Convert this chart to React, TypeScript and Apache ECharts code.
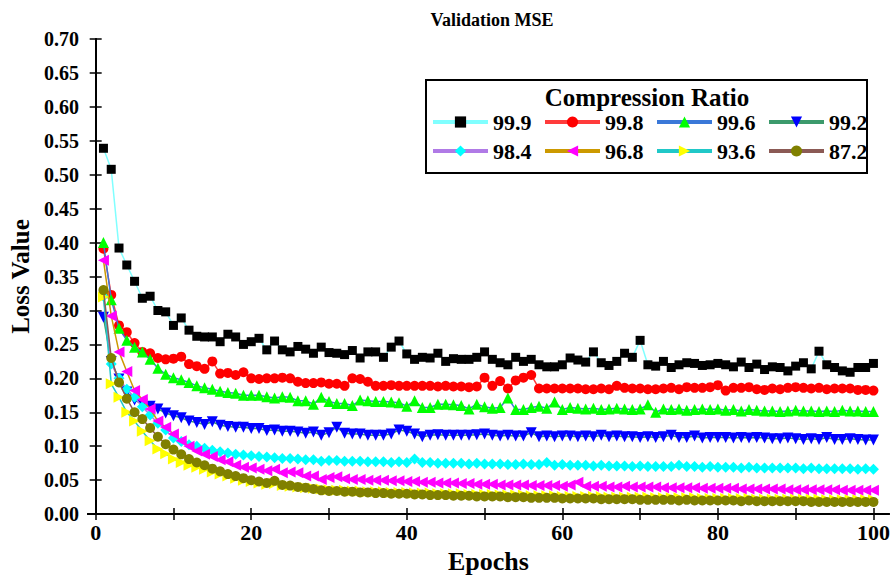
import React, { useEffect, useRef } from "react";
import * as echarts from "echarts";

const FONT = "Liberation Serif";

const epochs = Array.from({ length: 100 }, (_, i) => i + 1);

const cr999 = [
  0.539, 0.508, 0.392, 0.367, 0.343, 0.318, 0.321, 0.300, 0.298, 0.278,
  0.289, 0.271, 0.262, 0.261, 0.261, 0.254, 0.265, 0.261, 0.250, 0.254,
  0.259, 0.242, 0.255, 0.242, 0.239, 0.247, 0.243, 0.237, 0.246, 0.238,
  0.237, 0.235, 0.241, 0.230, 0.239, 0.239, 0.231, 0.246, 0.255, 0.236,
  0.228, 0.231, 0.230, 0.237, 0.225, 0.229, 0.228, 0.228, 0.231, 0.239,
  0.228, 0.223, 0.220, 0.231, 0.225, 0.228, 0.220, 0.217, 0.217, 0.220,
  0.230, 0.227, 0.224, 0.239, 0.223, 0.219, 0.225, 0.237, 0.231, 0.256,
  0.220, 0.218, 0.225, 0.216, 0.220, 0.223, 0.222, 0.219, 0.220, 0.222,
  0.220, 0.217, 0.224, 0.216, 0.221, 0.213, 0.217, 0.216, 0.211, 0.218,
  0.223, 0.214, 0.240, 0.220, 0.216, 0.211, 0.209, 0.216, 0.216, 0.222,
];
const cr998 = [
  0.391, 0.323, 0.278, 0.268, 0.252, 0.239, 0.237, 0.230, 0.228, 0.229,
  0.232, 0.221, 0.218, 0.214, 0.225, 0.207, 0.208, 0.205, 0.209, 0.200,
  0.199, 0.200, 0.200, 0.201, 0.200, 0.195, 0.193, 0.193, 0.194, 0.192,
  0.192, 0.189, 0.200, 0.199, 0.195, 0.189, 0.189, 0.190, 0.189, 0.189,
  0.189, 0.189, 0.189, 0.188, 0.189, 0.188, 0.188, 0.187, 0.188, 0.201,
  0.189, 0.196, 0.185, 0.197, 0.201, 0.205, 0.185, 0.185, 0.185, 0.185,
  0.185, 0.185, 0.184, 0.184, 0.185, 0.184, 0.189, 0.186, 0.185, 0.185,
  0.184, 0.184, 0.185, 0.186, 0.184, 0.187, 0.186, 0.186, 0.187, 0.190,
  0.182, 0.186, 0.186, 0.187, 0.184, 0.183, 0.185, 0.184, 0.186, 0.187,
  0.186, 0.185, 0.186, 0.184, 0.185, 0.185, 0.185, 0.183, 0.183, 0.182,
];
const cr996 = [
  0.400, 0.316, 0.274, 0.256, 0.246, 0.239, 0.228, 0.215, 0.206, 0.201,
  0.198, 0.194, 0.189, 0.186, 0.184, 0.181, 0.179, 0.178, 0.175, 0.175,
  0.175, 0.173, 0.171, 0.173, 0.172, 0.167, 0.167, 0.162, 0.172, 0.166,
  0.163, 0.163, 0.160, 0.168, 0.167, 0.166, 0.166, 0.165, 0.164, 0.159,
  0.167, 0.157, 0.157, 0.162, 0.162, 0.161, 0.160, 0.155, 0.162, 0.158,
  0.156, 0.157, 0.171, 0.154, 0.154, 0.157, 0.159, 0.156, 0.165, 0.154,
  0.157, 0.156, 0.155, 0.156, 0.154, 0.155, 0.156, 0.155, 0.154, 0.155,
  0.161, 0.150, 0.155, 0.154, 0.155, 0.153, 0.154, 0.155, 0.154, 0.155,
  0.153, 0.154, 0.152, 0.154, 0.153, 0.152, 0.152, 0.151, 0.152, 0.153,
  0.152, 0.152, 0.151, 0.152, 0.151, 0.153, 0.152, 0.152, 0.151, 0.151,
];
const cr992 = [
  0.290, 0.225, 0.199, 0.180, 0.168, 0.162, 0.159, 0.155, 0.149, 0.145,
  0.142, 0.137, 0.135, 0.132, 0.136, 0.131, 0.129, 0.128, 0.128, 0.126,
  0.126, 0.123, 0.124, 0.122, 0.122, 0.121, 0.119, 0.121, 0.116, 0.120,
  0.128, 0.119, 0.118, 0.118, 0.116, 0.116, 0.116, 0.118, 0.124, 0.122,
  0.118, 0.114, 0.116, 0.117, 0.116, 0.116, 0.116, 0.116, 0.117, 0.118,
  0.116, 0.115, 0.116, 0.115, 0.115, 0.120, 0.114, 0.115, 0.114, 0.115,
  0.115, 0.114, 0.115, 0.114, 0.116, 0.114, 0.115, 0.114, 0.114, 0.113,
  0.114, 0.113, 0.114, 0.116, 0.113, 0.113, 0.115, 0.112, 0.113, 0.113,
  0.113, 0.112, 0.113, 0.112, 0.113, 0.112, 0.111, 0.111, 0.112, 0.111,
  0.110, 0.111, 0.110, 0.113, 0.110, 0.110, 0.111, 0.110, 0.109, 0.109,
];
const cr984 = [
  0.321, 0.221, 0.200, 0.184, 0.172, 0.158, 0.146, 0.134, 0.124, 0.112,
  0.107, 0.102, 0.100, 0.097, 0.094, 0.092, 0.090, 0.088, 0.087, 0.086,
  0.085, 0.084, 0.083, 0.082, 0.082, 0.081, 0.080, 0.080, 0.078, 0.079,
  0.079, 0.078, 0.078, 0.078, 0.077, 0.077, 0.077, 0.076, 0.077, 0.076,
  0.081, 0.076, 0.076, 0.075, 0.075, 0.075, 0.075, 0.074, 0.075, 0.074,
  0.074, 0.074, 0.073, 0.073, 0.074, 0.073, 0.073, 0.076, 0.072, 0.073,
  0.072, 0.072, 0.072, 0.071, 0.072, 0.071, 0.071, 0.071, 0.070, 0.071,
  0.070, 0.070, 0.070, 0.070, 0.072, 0.070, 0.070, 0.069, 0.070, 0.069,
  0.069, 0.069, 0.068, 0.069, 0.068, 0.068, 0.068, 0.068, 0.068, 0.068,
  0.067, 0.068, 0.067, 0.067, 0.067, 0.067, 0.067, 0.066, 0.067, 0.066,
];
const cr968 = [
  0.374, 0.292, 0.239, 0.210, 0.182, 0.169, 0.155, 0.137, 0.128, 0.118,
  0.108, 0.100, 0.093, 0.088, 0.085, 0.080, 0.077, 0.072, 0.069, 0.068,
  0.066, 0.064, 0.066, 0.061, 0.062, 0.061, 0.056, 0.056, 0.051, 0.054,
  0.055, 0.052, 0.051, 0.051, 0.050, 0.050, 0.050, 0.049, 0.049, 0.048,
  0.048, 0.047, 0.047, 0.046, 0.046, 0.046, 0.045, 0.045, 0.044, 0.044,
  0.044, 0.043, 0.043, 0.043, 0.043, 0.042, 0.042, 0.042, 0.042, 0.041,
  0.043, 0.047, 0.041, 0.041, 0.041, 0.040, 0.040, 0.041, 0.040, 0.040,
  0.040, 0.040, 0.039, 0.039, 0.039, 0.039, 0.039, 0.038, 0.038, 0.038,
  0.038, 0.038, 0.037, 0.037, 0.037, 0.037, 0.037, 0.037, 0.036, 0.036,
  0.036, 0.036, 0.036, 0.036, 0.036, 0.035, 0.035, 0.035, 0.035, 0.035,
];
const cr936 = [
  0.320, 0.192, 0.172, 0.150, 0.137, 0.122, 0.108, 0.096, 0.089, 0.081,
  0.076, 0.072, 0.069, 0.066, 0.062, 0.059, 0.056, 0.053, 0.050, 0.048,
  0.046, 0.044, 0.045, 0.042, 0.041, 0.040, 0.039, 0.038, 0.037, 0.036,
  0.035, 0.035, 0.034, 0.034, 0.033, 0.033, 0.033, 0.032, 0.032, 0.032,
  0.031, 0.031, 0.031, 0.030, 0.030, 0.030, 0.030, 0.029, 0.029, 0.029,
  0.029, 0.028, 0.028, 0.028, 0.028, 0.027, 0.027, 0.027, 0.027, 0.026,
  0.026, 0.026, 0.026, 0.026, 0.026, 0.025, 0.025, 0.025, 0.025, 0.025,
  0.025, 0.024, 0.024, 0.024, 0.024, 0.024, 0.024, 0.023, 0.023, 0.023,
  0.023, 0.023, 0.023, 0.023, 0.022, 0.022, 0.022, 0.022, 0.022, 0.022,
  0.022, 0.022, 0.022, 0.021, 0.021, 0.021, 0.021, 0.021, 0.021, 0.021,
];
const cr872 = [
  0.330, 0.230, 0.194, 0.170, 0.150, 0.140, 0.127, 0.114, 0.103, 0.095,
  0.088, 0.081, 0.076, 0.072, 0.067, 0.063, 0.059, 0.056, 0.053, 0.050,
  0.048, 0.046, 0.049, 0.043, 0.042, 0.040, 0.039, 0.037, 0.035, 0.034,
  0.034, 0.033, 0.033, 0.032, 0.032, 0.031, 0.031, 0.030, 0.030, 0.030,
  0.029, 0.029, 0.028, 0.028, 0.028, 0.027, 0.027, 0.027, 0.026, 0.026,
  0.026, 0.026, 0.025, 0.025, 0.025, 0.024, 0.024, 0.024, 0.024, 0.023,
  0.023, 0.023, 0.023, 0.023, 0.022, 0.022, 0.022, 0.022, 0.022, 0.021,
  0.021, 0.021, 0.021, 0.021, 0.020, 0.021, 0.020, 0.020, 0.020, 0.020,
  0.020, 0.020, 0.019, 0.020, 0.019, 0.019, 0.019, 0.019, 0.019, 0.019,
  0.019, 0.018, 0.018, 0.018, 0.018, 0.018, 0.018, 0.018, 0.018, 0.018,
];

const seriesNames = ["99.9", "99.8", "99.6", "99.2", "98.4", "96.8", "93.6", "87.2"];
const seriesValues = [cr999, cr998, cr996, cr992, cr984, cr968, cr936, cr872];
const lineColors = ["#80ffff", "#ff3b3b", "#3a78d8", "#3c9a6c", "#b07ae6", "#cc9900", "#20c8c8", "#8b5a55"];
const markerColors = ["#000000", "#ff0000", "#00ff00", "#0000ff", "#00ffff", "#ff00ff", "#ffff00", "#808000"];
const markerShapes = ["rect", "circle", "triangle", "triangle", "diamond", "triangle", "triangle", "circle"];
const markerRotate = [0, 0, 0, 180, 0, 90, -90, 0];
const markerSizes = [9, 10, 11, 11, 11, 11, 11, 10];

const xTicks = [0, 10, 20, 30, 40, 50, 60, 70, 80, 90, 100];
const xLabels = [0, 20, 40, 60, 80, 100];

export default function App() {
  const ref = useRef<HTMLDivElement>(null);
  useEffect(() => {
    if (!ref.current) return;
    const chart = echarts.init(ref.current, null, { renderer: "svg" });
    const axisLineStyle = { color: "#000", width: 2 };
    const series = seriesNames.map((name, i) => ({
      name,
      type: "line",
      data: epochs.map((e, j) => [e, seriesValues[i][j]]),
      symbol: markerShapes[i],
      symbolSize: markerSizes[i],
      symbolRotate: markerRotate[i],
      lineStyle: { color: lineColors[i], width: 1.5 },
      itemStyle: { color: markerColors[i] },
      z: 2 + i * 0.01,
      emphasis: { disabled: true },
    }));
    const legendBase = {
      itemWidth: 55,
      itemHeight: 14,
      itemGap: 11.5,
      padding: 0,
      orient: "horizontal",
      lineStyle: { width: 4 },
      textStyle: { fontFamily: FONT, fontWeight: "bold", fontSize: 22, color: "#000" },
      selectedMode: false,
    };
    chart.setOption({
      animation: false,
      backgroundColor: "#fff",
      grid: { left: 86, right: 5, top: 39, bottom: 50, containLabel: false },
      title: {
        text: "Validation MSE",
        left: 487,
        top: 6,
        textAlign: "center",
        textStyle: { fontFamily: FONT, fontWeight: "bold", fontSize: 18, color: "#000" },
      },
      legend: [
        { ...legendBase, data: seriesNames.slice(0, 4), left: 431, top: 111 },
        { ...legendBase, data: seriesNames.slice(4), left: 431, top: 140 },
      ],
      graphic: [
        {
          type: "rect",
          shape: { x: 426, y: 80, width: 441, height: 93 },
          style: { fill: "#fff", stroke: "#000", lineWidth: 2 },
          z: 3,
        },
        {
          type: "text",
          x: 647,
          y: 97,
          style: {
            text: "Compression Ratio",
            fontFamily: FONT,
            fontWeight: "bold",
            fontSize: 25,
            fill: "#000",
            align: "center",
            verticalAlign: "middle",
          },
          z: 5,
        },
      ],
      xAxis: [
        {
          type: "value",
          min: -1,
          max: 102,
          position: "bottom",
          name: "Epochs",
          nameLocation: "middle",
          nameGap: 26,
          nameTextStyle: { fontFamily: FONT, fontWeight: "bold", fontSize: 26, color: "#000" },
          axisLine: { lineStyle: axisLineStyle },
          axisTick: { inside: true, length: 6, customValues: xTicks, lineStyle: { color: "#000", width: 1.5 } },
          axisLabel: {
            customValues: xLabels,
            margin: 7,
            fontFamily: FONT,
            fontWeight: "bold",
            fontSize: 22,
            color: "#000",
          },
          splitLine: { show: false },
        },
        {
          type: "value",
          min: -1,
          max: 102,
          position: "top",
          axisLine: { lineStyle: axisLineStyle },
          axisTick: { inside: true, length: 6, customValues: xTicks, lineStyle: { color: "#000", width: 1.5 } },
          axisLabel: { show: false },
          splitLine: { show: false },
        },
      ],
      yAxis: [
        {
          type: "value",
          min: 0,
          max: 0.7,
          interval: 0.05,
          position: "left",
          name: "Loss Value",
          nameLocation: "middle",
          nameGap: 54,
          nameTextStyle: { fontFamily: FONT, fontWeight: "bold", fontSize: 25, color: "#000" },
          axisLine: { show: true, lineStyle: axisLineStyle },
          axisTick: { show: true, inside: true, length: 6, lineStyle: { color: "#000", width: 1.5 } },
          axisLabel: {
            margin: 9,
            fontFamily: FONT,
            fontWeight: "bold",
            fontSize: 20,
            color: "#000",
            formatter: (v: number) => v.toFixed(2),
          },
          splitLine: { show: false },
        },
        {
          type: "value",
          min: 0,
          max: 0.7,
          interval: 0.05,
          position: "right",
          axisLine: { show: true, lineStyle: axisLineStyle },
          axisTick: { show: true, inside: true, length: 6, lineStyle: { color: "#000", width: 1.5 } },
          axisLabel: { show: false },
          splitLine: { show: false },
        },
      ],
      series,
    });
    return () => chart.dispose();
  }, []);
  return (
    <div
      ref={ref}
      style={{ position: "fixed", left: 0, top: 0, width: 894, height: 579, background: "#fff" }}
    />
  );
}
